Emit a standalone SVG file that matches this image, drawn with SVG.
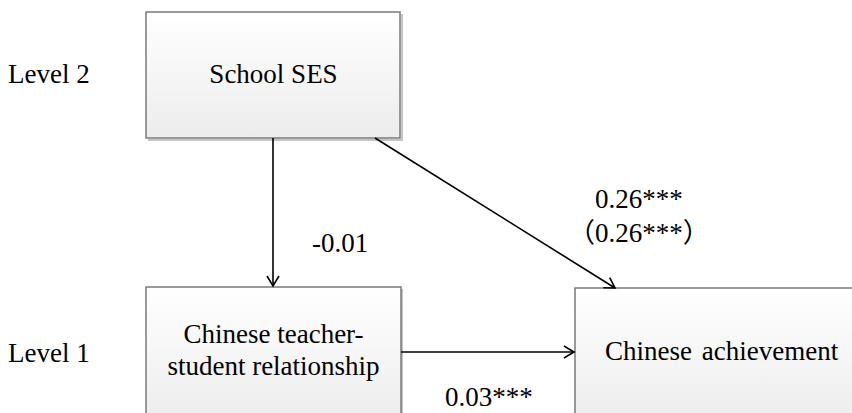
<svg xmlns="http://www.w3.org/2000/svg" width="852" height="413" viewBox="0 0 852 413">
<style>
text{font-family:"Liberation Serif","Noto Sans CJK SC",serif;font-size:27px;fill:#000}
.box{fill:url(#g);stroke:#7a7a7a;stroke-width:1.5}
.sh{fill:none;stroke:#c4c4c4;stroke-width:2}
.c{stroke:#000;stroke-width:1.6;fill:none;marker-end:url(#ah)}
.m{text-anchor:middle}
</style>
<defs>
<linearGradient id="g" x1="0" y1="0" x2="0" y2="1">
<stop offset="0" stop-color="#ffffff"/>
<stop offset="1" stop-color="#ececec"/>
</linearGradient>
<marker id="ah" markerWidth="14" markerHeight="14" refX="12" refY="7" orient="auto" markerUnits="userSpaceOnUse">
<path d="M2,1 L12,7 L2,13" fill="none" stroke="#000" stroke-width="1.6"/>
</marker>
</defs>
<rect width="852" height="413" fill="#fff"/>
<text x="8" y="83">Level 2</text>
<text x="8" y="362">Level 1</text>
<g id="school-ses">
<path class="sh" d="M148,140 H402 V14"/>
<rect class="box" x="146" y="12" width="254" height="126"/>
<text class="m" x="273.5" y="83">School SES</text>
</g>
<g id="teacher-student">
<path class="sh" d="M402,289 V413"/>
<rect class="box" x="146" y="287" width="255" height="140"/>
<text class="m" x="273.5" y="343">Chinese teacher-</text>
<text class="m" x="273.5" y="375">student relationship</text>
</g>
<g id="achievement">
<rect class="box" x="575" y="288" width="300" height="140"/>
<text x="605" y="360" word-spacing="3">Chinese achievement</text>
</g>
<g id="connectors">
<line class="c" x1="273" y1="138" x2="273" y2="286"/>
<line class="c" x1="375" y1="138" x2="615" y2="288"/>
<line class="c" x1="401" y1="352" x2="574" y2="352"/>
</g>
<g id="labels">
<text x="312" y="252">-0.01</text>
<text x="595" y="208">0.26***</text>
<text x="568" y="242">（0.26***）</text>
<text x="445" y="406">0.03***</text>
</g>
</svg>
